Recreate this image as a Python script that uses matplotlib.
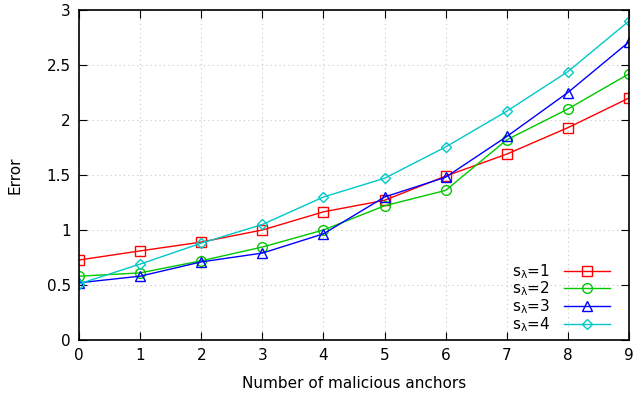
import matplotlib
matplotlib.use("Agg")
import matplotlib.pyplot as plt

anchors = [0, 1, 2, 3, 4, 5, 6, 7, 8, 9]
err_s1 = [0.727, 0.81, 0.89, 1.0, 1.165, 1.27, 1.49, 1.69, 1.93, 2.2]
err_s2 = [0.58, 0.61, 0.72, 0.845, 1.0, 1.22, 1.36, 1.82, 2.1, 2.42]
err_s3 = [0.52, 0.58, 0.71, 0.79, 0.965, 1.3, 1.48, 1.85, 2.25, 2.71]
err_s4 = [0.51, 0.69, 0.88, 1.05, 1.3, 1.47, 1.755, 2.08, 2.44, 2.9]

series = [
    (err_s1, "#ff0000", "s", 7, "1"),
    (err_s2, "#00c800", "o", 7, "2"),
    (err_s3, "#0000ff", "^", 6.5, "3"),
    (err_s4, "#00c8c8", "D", 5.5, "4"),
]

fig = plt.figure(figsize=(6.36, 3.97), dpi=100)
ax = fig.add_axes([0.1242, 0.1436, 0.8648, 0.8312])

for vals, col, mk, ms, num in series:
    ax.plot(anchors, vals, color=col, marker=mk, markersize=ms, markerfacecolor="none",
            markeredgecolor=col, linewidth=1, markeredgewidth=1,
            label=r"s$_{\mathregular{λ}}$=" + num)

ax.set_xlim(0, 9)
ax.set_ylim(0, 3)
ax.set_xticks(range(10))
ax.set_yticks([0, 0.5, 1, 1.5, 2, 2.5, 3])
ax.set_yticklabels(["0", "0.5", "1", "1.5", "2", "2.5", "3"])
ax.tick_params(direction="in", top=True, right=True, length=6, labelsize=11, pad=6)
ax.grid(True, linestyle=(0, (1, 3)), color="#c8c8c8", linewidth=0.8)
for s in ax.spines.values():
    s.set_linewidth(1.2)

ax.set_xlabel("Number of malicious anchors", fontsize=11, labelpad=9)
ax.set_ylabel("Error", fontsize=11, labelpad=17)

ax.legend(loc="lower right", bbox_to_anchor=(0.965, 0.018), frameon=False,
          markerfirst=False, fontsize=11, handlelength=3.0, labelspacing=-0.06,
          borderpad=0, borderaxespad=0, handletextpad=0.9)

fig.savefig("out.png", dpi=100)
